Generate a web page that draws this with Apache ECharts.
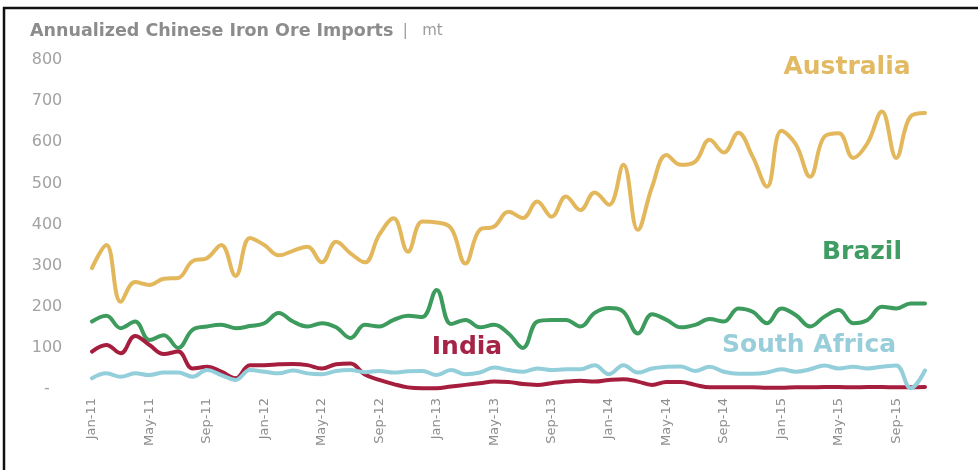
<!DOCTYPE html>
<html>
<head>
<meta charset="utf-8">
<script src="https://cdn.jsdelivr.net/npm/echarts@6/dist/echarts.min.js"></script>
<style>
html,body{margin:0;padding:0;background:#fff;}
#chart{width:978px;height:470px;}
</style>
</head>
<body>
<div id="chart"></div>
<script>
var months = ['Jan','Feb','Mar','Apr','May','Jun','Jul','Aug','Sep','Oct','Nov','Dec'];
var categories = [];
for (var y = 11; y <= 15; y++) {
  for (var m = 0; m < 12; m++) {
    if (y === 15 && m > 10) break;
    categories.push(months[m] + '-' + y);
  }
}

var australia = [294, 350, 212, 260, 253, 268, 270, 311, 318, 350, 275, 367, 350, 325, 336,
  346, 308, 358, 330, 308, 375, 415, 334, 407, 405, 391, 305, 387, 395,
  431, 416, 456, 419, 468, 435, 478, 448, 545, 387, 492, 569, 545, 553, 606,
  575, 623, 565, 492, 628, 595, 516, 614, 622, 562, 598, 675, 562, 663, 671];

var brazil = [164, 178, 148, 164, 119, 131, 100, 144, 152, 156, 148, 153, 160, 185, 164,
  152, 160, 150, 124, 156, 152, 168, 178, 175, 241, 158, 168, 150, 156,
  135, 100, 164, 168, 168, 152, 185, 197, 188, 135, 182, 168, 150, 156, 170,
  164, 196, 188, 160, 196, 180, 152, 176, 192, 160, 168, 200, 196, 208, 208];

var india = [91, 107, 87, 129, 107, 85, 91, 50, 54, 42, 26, 58, 58, 60, 61,
  58, 50, 60, 62, 35, 22, 12, 4, 2, 2, 6, 10, 14, 18,
  17, 12, 10, 14, 18, 20, 18, 22, 24, 18, 10, 17, 17, 10, 4,
  4, 4, 4, 3, 3, 4, 4, 5, 5, 4, 5, 5, 4, 4, 5];

var southAfrica = [26, 38, 30, 38, 34, 40, 40, 30, 46, 34, 22, 46, 42, 38, 45,
  38, 36, 44, 46, 41, 44, 40, 43, 44, 34, 46, 36, 40, 52,
  46, 42, 50, 46, 48, 48, 58, 36, 58, 40, 50, 54, 55, 44, 54,
  42, 37, 37, 40, 48, 42, 48, 57, 50, 54, 50, 54, 57, 2, 45];

var yTicks = [0, 100, 200, 300, 400, 500, 600, 700, 800];
var yTickLabels = ['-', '100', '200', '300', '400', '500', '600', '700', '800'];

var seriesNames = ['Australia', 'Brazil', 'India', 'South Africa'];
var colors = ['#E3B75C', '#3D9B5E', '#A61E3E', '#93CEDB'];
var labelColors = ['#E2BA64', '#3F9C62', '#A52346', '#98CDDA'];

var chart = echarts.init(document.getElementById('chart'), null, {renderer: 'canvas'});

var FONT = '"DejaVu Sans", Verdana, sans-serif';

function mkSeries(name, data, color) {
  return {
    name: name,
    type: 'line',
    data: data,
    smooth: 0.4,
    symbol: 'none',
    lineStyle: {color: color, width: 4, cap: 'round', join: 'round'},
    itemStyle: {color: color},
    animation: false
  };
}

var option = {
  backgroundColor: '#ffffff',
  animation: false,
  title: {
    left: 30,
    top: 22,
    padding: 0,
    text: '{b|Annualized Chinese Iron Ore Imports}{n|  |   mt}',
    textStyle: {
      rich: {
        b: {fontFamily: FONT, fontWeight: 'bold', fontSize: 17.5, color: '#8c8c8c'},
        n: {fontFamily: FONT, fontWeight: 'normal', fontSize: 15, color: '#9b9b9b'}
      }
    }
  },
  grid: {left: 92, right: 53, top: 60, bottom: 81, containLabel: false},
  xAxis: {
    type: 'category',
    data: categories,
    boundaryGap: false,
    axisLine: {show: false},
    axisTick: {show: false},
    splitLine: {show: false},
    axisLabel: {
      interval: 3,
      rotate: 90,
      margin: 9,
      fontFamily: FONT,
      fontSize: 13,
      color: '#8e8e8e'
    }
  },
  yAxis: {
    type: 'value',
    min: 0,
    max: 800,
    interval: 100,
    axisLine: {show: false},
    axisTick: {show: false},
    splitLine: {show: false},
    axisLabel: {
      align: 'center',
      margin: 45,
      fontFamily: FONT,
      fontSize: 16,
      color: '#a2a2a2',
      formatter: function (v) {
        var i = yTicks.indexOf(v);
        return i >= 0 ? yTickLabels[i] : '';
      }
    }
  },
  series: [
    mkSeries(seriesNames[0], australia, colors[0]),
    mkSeries(seriesNames[1], brazil, colors[1]),
    mkSeries(seriesNames[2], india, colors[2]),
    mkSeries(seriesNames[3], southAfrica, colors[3])
  ],
  graphic: [
    {type: 'line', shape: {x1: 4, y1: 7, x2: 4, y2: 470}, style: {stroke: '#111', lineWidth: 2.5}},
    {type: 'line', shape: {x1: 3, y1: 8, x2: 978, y2: 8}, style: {stroke: '#111', lineWidth: 2.5}},
    {type: 'text', x: 847, y: 67, style: {text: seriesNames[0], fill: labelColors[0], font: 'bold 25px ' + FONT, textAlign: 'center', textVerticalAlign: 'middle'}},
    {type: 'text', x: 862, y: 252, style: {text: seriesNames[1], fill: labelColors[1], font: 'bold 25px ' + FONT, textAlign: 'center', textVerticalAlign: 'middle'}},
    {type: 'text', x: 467, y: 347, style: {text: seriesNames[2], fill: labelColors[2], font: 'bold 25px ' + FONT, textAlign: 'center', textVerticalAlign: 'middle'}},
    {type: 'text', x: 809, y: 345, style: {text: seriesNames[3], fill: labelColors[3], font: 'bold 25px ' + FONT, textAlign: 'center', textVerticalAlign: 'middle'}}
  ]
};

chart.setOption(option);
</script>
</body>
</html>
